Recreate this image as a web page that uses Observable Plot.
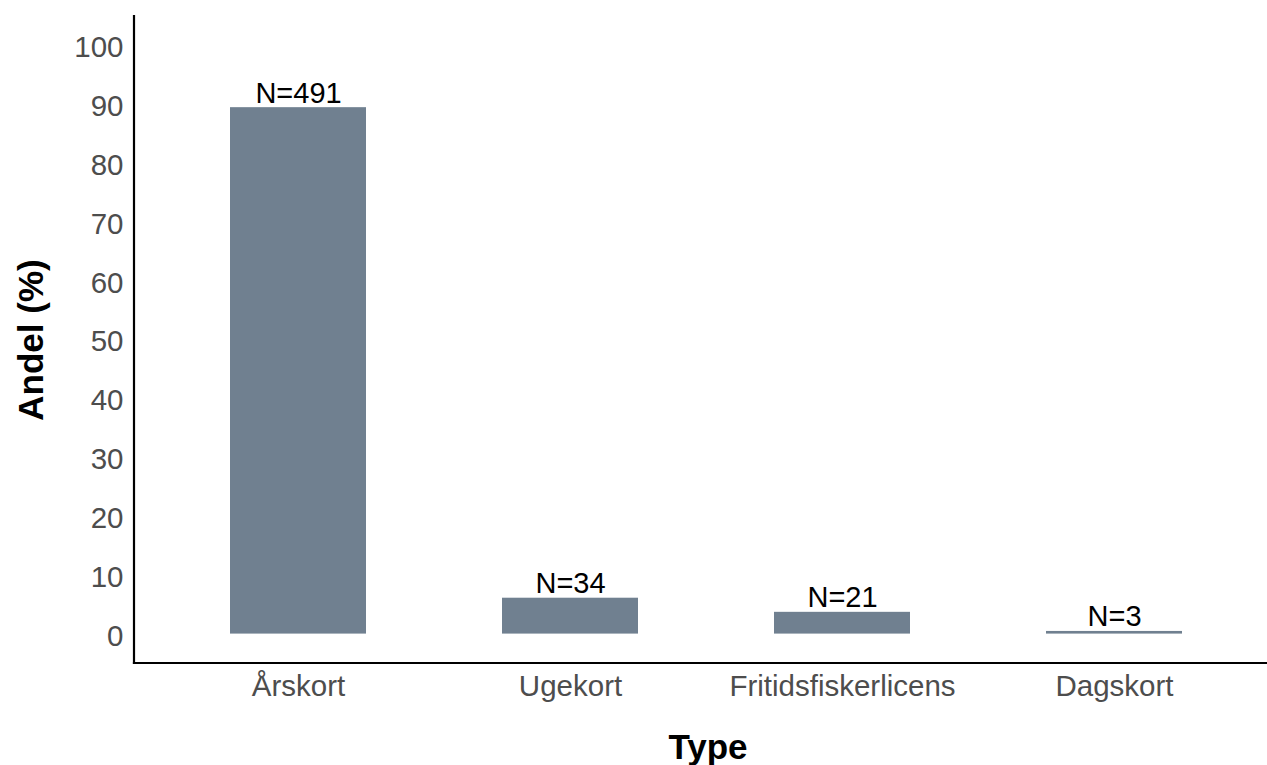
<!DOCTYPE html>
<html>
<head>
<meta charset="utf-8">
<script src="https://cdn.jsdelivr.net/npm/d3@7"></script>
<script src="https://cdn.jsdelivr.net/npm/@observablehq/plot@0.6"></script>
<style>
  html, body { margin: 0; padding: 0; background: #fff; }
  #chart svg { font-family: "Liberation Sans", Arial, sans-serif; display: block; }
</style>
</head>
<body>
<div id="chart"></div>
<script>
const categories = ["Årskort", "Ugekort", "Fritidsfiskerlicens", "Dagskort"];
const counts = [491, 34, 21, 3];
const shares = [89.5, 6.1, 3.7, 0.45];
const yTicks = [0, 10, 20, 30, 40, 50, 60, 70, 80, 90, 100];
const xTitle = "Type";
const yTitle = "Andel (%)";

const data = categories.map((type, i) => ({type, share: shares[i], label: `N=${counts[i]}`}));

const axisLines = (index, scales, values, dims) => {
  const ns = "http://www.w3.org/2000/svg";
  const g = document.createElementNS(ns, "g");
  const y0 = scales.y(-5), y1 = scales.y(105);
  const xl = dims.marginLeft;
  const xr = dims.width;
  const mk = (x1, y1_, x2, y2) => {
    const l = document.createElementNS(ns, "line");
    l.setAttribute("x1", x1); l.setAttribute("y1", y1_);
    l.setAttribute("x2", x2); l.setAttribute("y2", y2);
    l.setAttribute("stroke", "#000"); l.setAttribute("stroke-width", 2.2);
    l.setAttribute("stroke-linecap", "square");
    g.appendChild(l);
  };
  mk(xl, y0, xl, y1);
  mk(xl, y0, xr, y0);
  return g;
};

const chart = Plot.plot({
  width: 1267,
  height: 765,
  marginLeft: 134,
  marginRight: 0,
  marginTop: 16,
  marginBottom: 102,
  style: {fontFamily: "Liberation Sans, Arial, sans-serif", background: "#fff"},
  x: {domain: categories, range: [162, 1250], paddingInner: 0.5, paddingOuter: 0.25, label: null},
  y: {domain: [-5, 105], label: null},
  marks: [
    Plot.barY(data, {x: "type", y1: 0, y2: "share", fill: "#708090"}),
    Plot.text(data, {x: "type", y: "share", text: "label", lineAnchor: "bottom", dy: -5, fontSize: 29, fill: "#000"}),
    Plot.axisY(yTicks, {tickSize: 0, tickPadding: 11, dy: 2, fontSize: 29.5, fill: "#4D4D4D", label: null}),
    Plot.axisX({tickSize: 0, tickPadding: 12, fontSize: 29.5, fill: "#4D4D4D", label: null}),
    axisLines,
    Plot.text([xTitle], {frameAnchor: "bottom", dx: 7, dy: 84, textAnchor: "middle", lineAnchor: "middle", fontSize: 35, fontWeight: "bold", fill: "#000"}),
    Plot.text([yTitle], {frameAnchor: "left", dx: -103, rotate: -90, textAnchor: "middle", lineAnchor: "middle", fontSize: 35, fontWeight: "bold", fill: "#000"})
  ]
});
document.getElementById("chart").appendChild(chart);
</script>
</body>
</html>
